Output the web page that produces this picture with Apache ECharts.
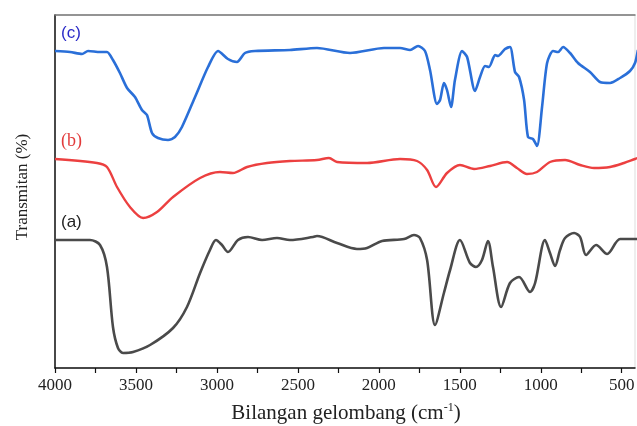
<!DOCTYPE html>
<html>
<head>
<meta charset="utf-8">
<script src="https://cdn.jsdelivr.net/npm/echarts@6/dist/echarts.min.js"></script>
<style>
html,body{margin:0;padding:0;background:#fff;}
#chart{width:637px;height:426px;}
</style>
</head>
<body>
<div id="chart"></div>
<script>
// Wavenumbers (cm-1) and transmittance (arbitrary offset units) for each spectrum
var wnC = [4000,3907,3833,3796,3722,3679,3642,3599,3555,3506,3463,3432,3401,3364,3302,3259,3216,3135,3055,2993,2932,2876,2827,2765,2549,2382,2178,1968,1869,1807,1758,1715,1684,1641,1622,1598,1579,1554,1530,1486,1455,1406,1375,1344,1320,1282,1264,1221,1190,1159,1134,1103,1079,1048,1023,992,961,924,893,862,819,770,696,634,572,510,449,418,400];
var tC  = [317,316,314,317,316,316,308,295,280,271,258,253,235,230,228,231,241,271,301,317,309,306,315,317,318,320,315,320,320,318,322,317,298,264,268,285,278,261,288,317,311,277,291,302,301,313,312,319,321,296,291,268,231,229,222,261,305,317,316,321,315,305,296,286,285,290,297,305,318];

var wnB = [4000,3741,3679,3617,3537,3456,3370,3271,3104,2981,2901,2814,2691,2549,2382,2308,2258,2073,1869,1764,1702,1647,1579,1499,1412,1313,1208,1147,1085,1023,943,850,757,671,572,486,418,400];
var tB  = [209,205,201,181,161,150,156,171,190,196,195,201,205,207,208,210,206,205,209,207,198,181,195,203,199,202,206,200,194,196,206,208,203,200,201,205,209,210];

var wnA = [4000,3784,3722,3679,3642,3611,3580,3518,3413,3271,3185,3104,3043,3006,2969,2932,2870,2808,2721,2629,2549,2406,2382,2258,2135,2073,1980,1844,1783,1746,1702,1653,1598,1560,1499,1437,1400,1363,1326,1295,1245,1190,1134,1066,1035,974,943,912,881,850,794,757,720,658,590,510,418,400];
var tA  = [128,128,123,101,41,20,15,16,23,40,61,95,118,128,123,116,128,131,128,130,128,131,132,125,119,120,127,129,133,130,108,43,75,98,128,105,101,108,127,101,61,85,91,76,85,128,115,102,118,130,135,131,113,123,114,129,129,129];

var xTicks = [4000,3500,3000,2500,2000,1500,1000,500];
var xMinorTicks = [3750,3250,2750,2250,1750,1250,750];
var seriesLabels = ['(a)','(b)','(c)'];

function zip(x, y){ return x.map(function(v,i){ return [v, y[i]]; }); }

var chart = echarts.init(document.getElementById('chart'), null, {renderer:'canvas'});
var serif = '"Liberation Serif","Times New Roman",serif';
var sans = '"Liberation Sans",Arial,sans-serif';

chart.setOption({
  animation:false,
  backgroundColor:'#fff',
  grid:{left:55, top:15, right:2, bottom:58, containLabel:false, outerBoundsMode:'none',
        show:true, borderColor:'#dddddd', borderWidth:1, backgroundColor:'transparent'},
  xAxis:[{
    type:'value', inverse:true, min:418, max:4000,
    axisLine:{show:true, onZero:false, lineStyle:{color:'#111', width:1.5}},
    axisTick:{show:true, inside:false, length:5, customValues:xTicks.concat(xMinorTicks), lineStyle:{color:'#111', width:1.2}},
    splitLine:{show:false},
    axisLabel:{customValues:xTicks, margin:9, color:'#222', fontFamily:serif, fontSize:17,
               formatter:function(v){ return String(v); }}
  },{
    type:'value', inverse:true, min:418, max:4000, position:'top',
    axisLine:{show:true, onZero:false, lineStyle:{color:'#777', width:1.5}},
    axisTick:{show:false}, axisLabel:{show:false}, splitLine:{show:false}
  }],
  yAxis:{
    type:'value', min:0, max:353,
    axisLine:{show:true, lineStyle:{color:'#111', width:1.5}},
    axisTick:{show:false}, axisLabel:{show:false}, splitLine:{show:false}
  },
  series:[
    {name:'(a)', type:'line', data:zip(wnA,tA), showSymbol:false, smooth:0.3, clip:true,
     lineStyle:{color:'#4a4a4a', width:2.6}},
    {name:'(b)', type:'line', data:zip(wnB,tB), showSymbol:false, smooth:0.3, clip:true,
     lineStyle:{color:'#ec4040', width:2.4}},
    {name:'(c)', type:'line', data:zip(wnC,tC), showSymbol:false, smooth:0.25, clip:true,
     lineStyle:{color:'#2a6fd8', width:2.6}}
  ],
  graphic:[
    {type:'text', x:61, y:33, style:{text:seriesLabels[2], font:'17px '+sans, fill:'#2b2bc8', textVerticalAlign:'middle'}},
    {type:'text', x:61, y:141, style:{text:seriesLabels[1], font:'18px '+serif, fill:'#e23a3a', textVerticalAlign:'middle'}},
    {type:'text', x:61, y:222, style:{text:seriesLabels[0], font:'17px '+sans, fill:'#222', textVerticalAlign:'middle'}},
    {type:'text', x:23, y:187, rotation:Math.PI/2,
     style:{text:'Transmitan (%)', font:'17px '+serif, fill:'#222', textAlign:'center', textVerticalAlign:'middle'}},
    {type:'text', x:346, y:413,
     style:{text:'{n|Bilangan gelombang (cm}{s|-1}{n|)}', textAlign:'center', textVerticalAlign:'middle',
       rich:{n:{fontFamily:serif, fontSize:21, fill:'#222', color:'#222'},
             s:{fontFamily:serif, fontSize:12, fill:'#222', color:'#222', verticalAlign:'top', padding:[0,0,10,0]}}}}
  ]
});
</script>
</body>
</html>
